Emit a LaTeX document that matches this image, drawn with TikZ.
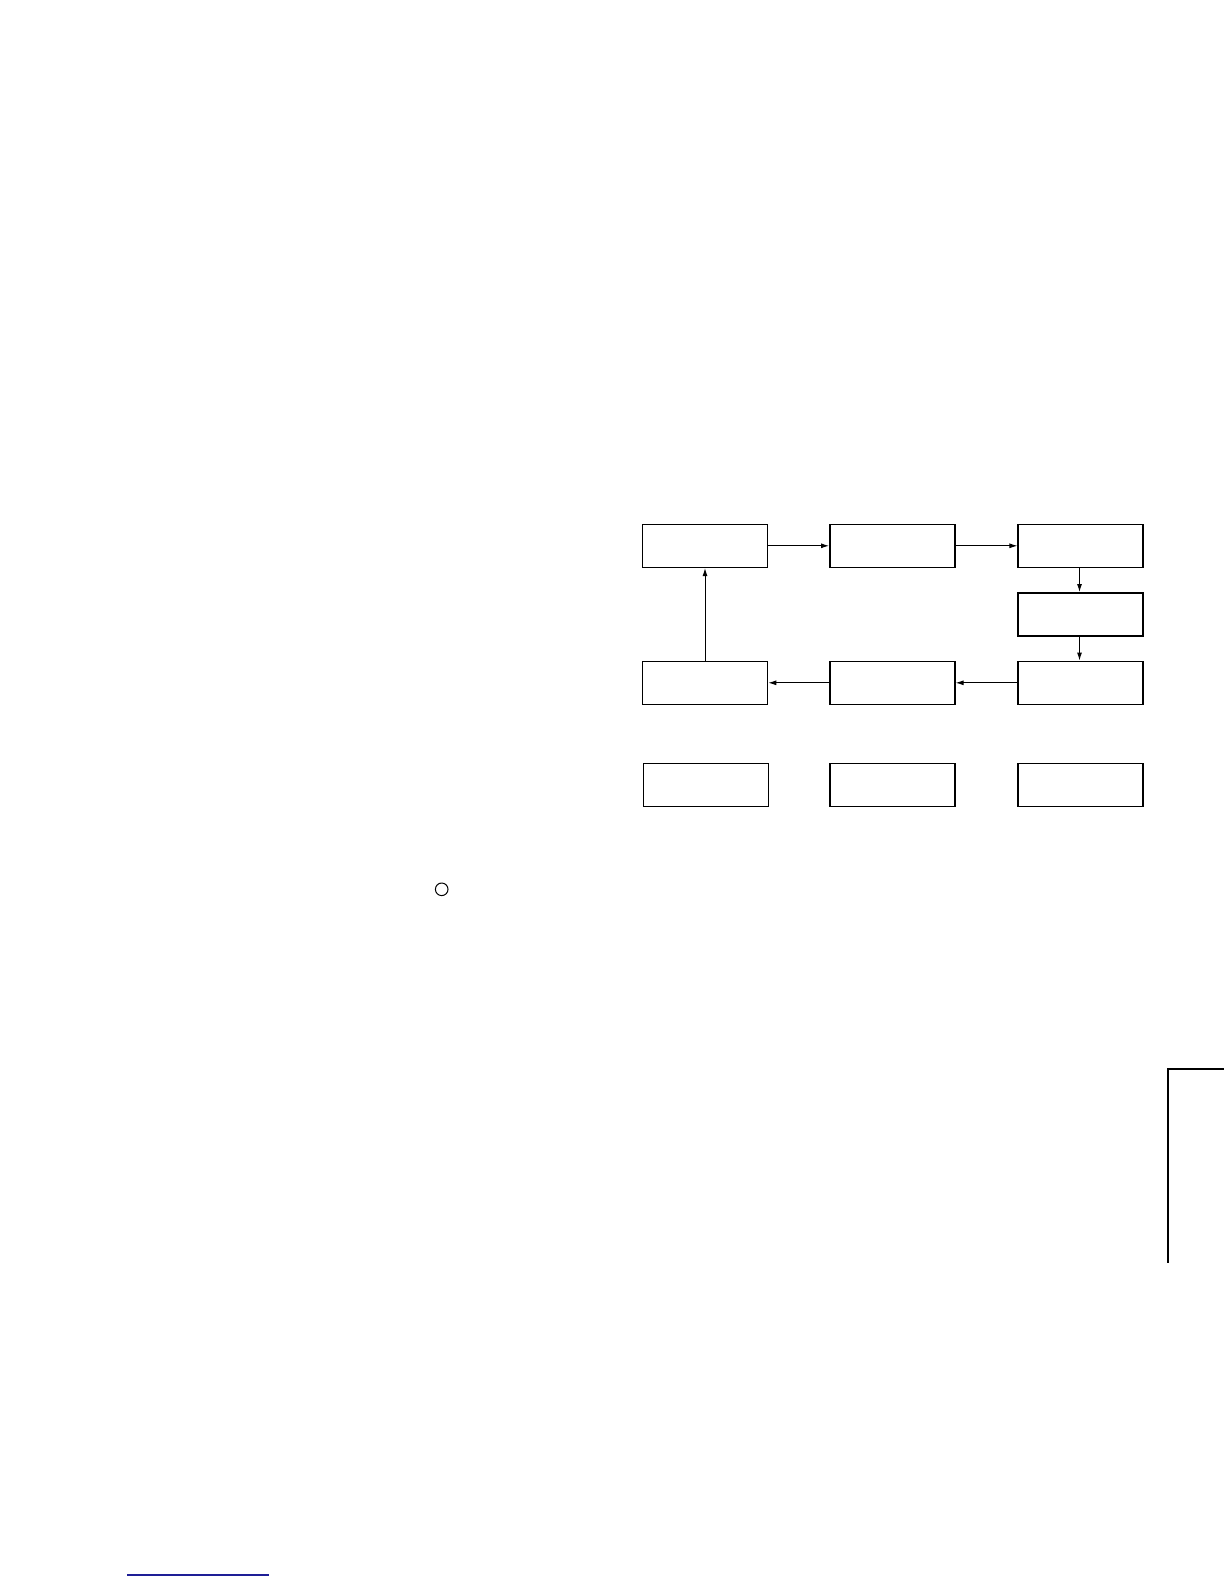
\documentclass[tikz,border=0pt]{standalone}
\usetikzlibrary{arrows.meta}
\definecolor{bleufonce}{RGB}{30,30,150}
\tikzset{
  boite/.style={draw, line width=0.75bp, minimum width=62.5bp, minimum height=21.5bp, inner sep=0pt},
  fleche/.style={line width=0.5bp, -{Latex[length=4bp,width=2.5bp]}}
}
\begin{document}
\begin{tikzpicture}[x=0.5bp, y=-0.5bp]
    \useasboundingbox (0,0) rectangle (1224,1584);
    %boites du cycle
    \node[boite] (h1) at (705,545.8) {};
    \node[boite] (h2) at (892.3,545.8) {};
    \node[boite] (h3) at (1080.7,545.8) {};
    \node[boite] (m3) at (1080.7,614.3) {};
    \node[boite] (b3) at (1080.7,682.8) {};
    \node[boite] (b2) at (892.3,682.8) {};
    \node[boite] (b1) at (705,682.8) {};
    %boites du bas
    \node[boite] (l1) at (706,784.8) {};
    \node[boite] (l2) at (892.3,784.8) {};
    \node[boite] (l3) at (1080.7,784.8) {};
    %fleches
    \draw[fleche] (h1) -- (h2);
    \draw[fleche] (h2) -- (h3);
    \draw[fleche] ([xshift=-0.6bp]h3.south) -- ([xshift=-0.6bp]m3.north);
    \draw[fleche] ([xshift=-0.6bp]m3.south) -- ([xshift=-0.6bp]b3.north);
    \draw[fleche] (b3) -- (b2);
    \draw[fleche] (b2) -- (b1);
    \draw[fleche] (b1) -- (h1);
    %petit cercle
    \node[draw, circle, line width=0.5bp, minimum size=6.3bp, inner sep=0pt] (rond) at (441.7,889.3) {};
    %coin a droite
    \draw[line width=0.9bp] (1224,1068.7) -- (1167.7,1068.7) -- (1167.7,1263);
    %trait bleu
    \draw[bleufonce, line width=0.65bp] (127.3,1575) -- (269,1575);
\end{tikzpicture}
\end{document}
